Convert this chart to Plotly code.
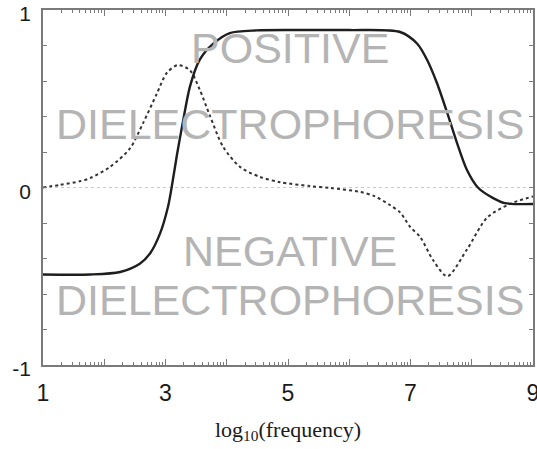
import math
import plotly.graph_objects as go

# solid curve (Re of Clausius-Mossotti factor)
solid_x = [1.0, 1.77, 2.26, 2.58, 2.75, 2.91, 3.04, 3.10, 3.19, 3.29, 3.40, 3.56, 3.78,
           4.05, 4.49, 5.2, 6.0, 6.83, 7.11, 7.27, 7.43, 7.60, 7.76, 7.92, 8.10, 8.35,
           8.54, 9.0]
solid_y = [-0.49, -0.49, -0.476, -0.43, -0.37, -0.26, -0.11, 0.0, 0.19, 0.38, 0.57, 0.72, 0.81,
           0.87, 0.885, 0.887, 0.887, 0.876, 0.81, 0.72, 0.59, 0.42, 0.25, 0.10, 0.0, -0.06,
           -0.088, -0.093]

# dashed curve
dash_x = [1.0, 1.28, 1.60, 1.77, 2.09, 2.42, 2.63, 2.86, 3.02, 3.20, 3.40, 3.56, 3.73,
          3.94, 4.22, 4.54, 4.87, 5.36, 5.69, 6.18, 6.42, 6.67, 6.83, 6.99, 7.16, 7.37,
          7.60, 7.92, 8.25, 8.62, 9.0]
dash_y = [0.0, 0.015, 0.035, 0.053, 0.115, 0.22, 0.36, 0.53, 0.645, 0.69, 0.66, 0.55, 0.40,
          0.23, 0.115, 0.06, 0.03, 0.008, -0.003, -0.025, -0.05, -0.10, -0.14, -0.22, -0.28, -0.41,
          -0.50, -0.35, -0.17, -0.093, -0.05]

zero_x = [1, 9]
zero_y = [0, 0]

x_labels = ["1", "", "3", "", "5", "", "7", "", "9"]
x_major = list(range(1, 10))
x_minor = [n + math.log10(k) for n in range(1, 9) for k in range(2, 10)]

frame = "#7a7a7a"
txt = "#b4b4b4"

fig = go.Figure()
fig.add_trace(go.Scatter(x=zero_x, y=zero_y, mode="lines",
                         line=dict(color="#c8c8c8", width=1.2, dash="dot")))
fig.add_trace(go.Scatter(x=dash_x, y=dash_y, mode="lines", line_shape="spline",
                         line=dict(color="#333333", width=2, dash="3px,3px", smoothing=0.8)))
fig.add_trace(go.Scatter(x=solid_x, y=solid_y, mode="lines", line_shape="spline",
                         line=dict(color="#1e1e1e", width=2.4, smoothing=0.8)))

big = dict(family="Arial", size=43, color=txt)
for text, yy in [("POSITIVE", 0.785), ("DIELECTROPHORESIS", 0.355),
                 ("NEGATIVE", -0.355), ("DIELECTROPHORESIS", -0.635)]:
    fig.add_annotation(x=5.03, y=yy, text=text, showarrow=False, font=big,
                       xanchor="center", yanchor="middle")

fig.update_layout(
    width=537, height=449,
    margin=dict(l=43, r=4, t=10, b=84),
    plot_bgcolor="white", paper_bgcolor="white",
    showlegend=False,
    font=dict(family="Arial", size=20, color="#222222"),
)
fig.update_xaxes(
    range=[1, 9], showgrid=False, zeroline=False, automargin=False,
    showline=True, linecolor=frame, linewidth=1.5, mirror="ticks",
    tickmode="array", tickvals=x_major, ticktext=x_labels,
    ticks="inside", ticklen=6, tickcolor=frame, tickwidth=1,
    ticklabeloverflow="allow", ticklabelstandoff=7,
    minor=dict(tickmode="array", tickvals=x_minor, ticks="inside", ticklen=3,
               tickcolor=frame, tickwidth=1, showgrid=False),
    tickfont=dict(family="Arial", size=23, color="#1a1a1a"),
    title=dict(text="log<sub>10</sub>(frequency)",
               font=dict(family="Liberation Serif", size=22, color="#1a1a1a"),
               standoff=16),
)
fig.update_yaxes(
    range=[-1, 1], showgrid=False, zeroline=False, automargin=False,
    showline=True, linecolor=frame, linewidth=1.5, mirror="ticks",
    tickmode="array", tickvals=[-1, 0, 1], ticktext=["-1", "0", "1"],
    ticks="inside", ticklen=4, tickcolor=frame, tickwidth=1,
    ticklabeloverflow="allow", ticklabelstandoff=6, ticklabelshift=4,
    minor=dict(dtick=0.2, tick0=0, ticks="inside", ticklen=4,
               tickcolor=frame, tickwidth=1, showgrid=False),
    tickfont=dict(family="Arial", size=21, color="#1a1a1a"),
)

fig.write_html("out.html", config={"displayModeBar": False},
               post_script="document.body.style.margin='0';")
